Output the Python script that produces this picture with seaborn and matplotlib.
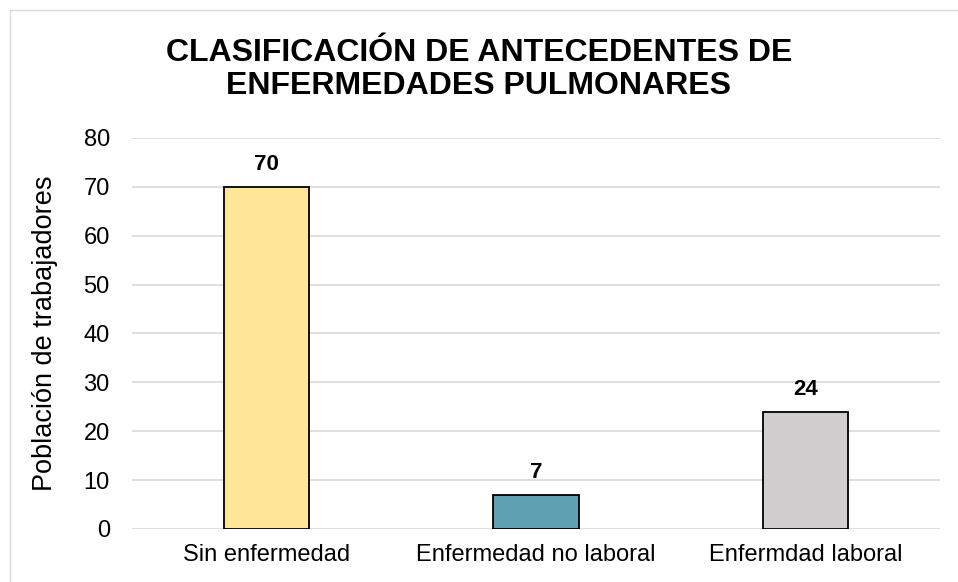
import matplotlib
matplotlib.use("Agg")
import matplotlib.pyplot as plt
import seaborn as sns
import pandas as pd

categorias = ["Sin enfermedad", "Enfermedad no laboral", "Enfermdad laboral"]
trabajadores = [70, 7, 24]
colores = ["#FFE699", "#5FA1B3", "#D0CECE"]

sns.set_style("white")
plt.rcParams["font.family"] = ["Liberation Sans", "DejaVu Sans"]
plt.rcParams["text.color"] = "black"

df = pd.DataFrame({"cat": categorias, "n": trabajadores})

fig = plt.figure(figsize=(9.58, 5.82), dpi=100)
ax = fig.add_axes([0.1378, 0.0911, 0.8434, 0.6718])

sns.barplot(data=df, x="cat", y="n", hue="cat", palette=colores, legend=False,
            saturation=1, width=0.316, edgecolor="black", linewidth=1.3,
            ax=ax, zorder=3)

for i, v in enumerate(trabajadores):
    ax.text(i, v + 2.4, str(v), ha="center", va="bottom", fontsize=16,
            fontweight="bold", color="black")

ax.set_ylim(0, 80)
ax.set_yticks(range(0, 81, 10))
ax.yaxis.grid(True, color="#d9d9d9", linewidth=1.2, zorder=0)
ax.xaxis.grid(False)
for s in ax.spines.values():
    s.set_visible(False)
ax.tick_params(axis="both", length=0, labelsize=17, colors="black")
ax.tick_params(axis="y", pad=16)
ax.tick_params(axis="x", pad=11)
ax.set_xlabel("")
ax.set_ylabel("Población de trabajadores", fontsize=19.5, color="black")
ax.yaxis.set_label_coords(-0.091, 0.5)

fig.text(0.5, 0.881, "CLASIFICACIÓN DE ANTECEDENTES DE\nENFERMEDADES PULMONARES",
         ha="center", va="center", fontsize=23, fontweight="bold",
         linespacing=1.15, color="black")

# borde del grafico (solo arriba e izquierda)
fig.add_artist(plt.Line2D([0.0105, 1], [0.983, 0.983], transform=fig.transFigure,
                          color="#d9d9d9", linewidth=1))
fig.add_artist(plt.Line2D([0.0105, 0.0105], [0, 0.983], transform=fig.transFigure,
                          color="#d9d9d9", linewidth=1))

fig.savefig("out.png", dpi=100)
